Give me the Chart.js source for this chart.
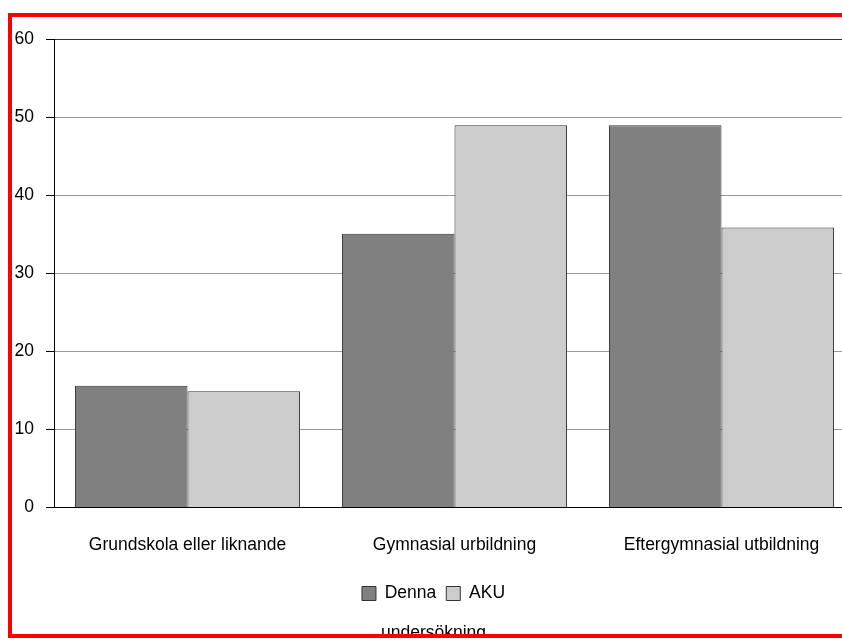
<!DOCTYPE html>
<html>
<head>
<meta charset="utf-8">
<script src="https://cdn.jsdelivr.net/npm/chart.js@4.4.1/dist/chart.umd.min.js"></script>
<style>
  html, body { margin: 0; padding: 0; background: #fff; overflow: hidden; }
  #frame {
    position: absolute; left: 8px; top: 13px;
    width: 900px; height: 617px;
    border: 4px solid #ff0000;
    overflow: hidden; background: #fff;
  }
  #c { display: block; }
</style>
</head>
<body>
<div id="frame"><canvas id="c" width="850" height="640"></canvas></div>
<script>
const categories = ['Grundskola eller liknande', 'Gymnasial urbildning', 'Eftergymnasial utbildning'];
const seriesNames = ['Denna', 'AKU'];
const extraLegendLine = 'undersökning';
const denna = [15.6, 35.1, 49.0];
const aku = [14.9, 49.0, 35.9];
const yTicks = [0, 10, 20, 30, 40, 50, 60];

const FONT = { family: '"Liberation Sans", Arial, sans-serif', size: 17.5 };

new Chart(document.getElementById('c'), {
  type: 'bar',
  data: {
    labels: categories,
    datasets: [
      { label: seriesNames[0], data: denna, backgroundColor: '#808080', borderColor: '#333333', borderWidth: 1 },
      { label: seriesNames[1], data: aku, backgroundColor: '#cccccc', borderColor: '#333333', borderWidth: 1 }
    ]
  },
  options: {
    responsive: false,
    animation: false,
    events: [],
    layout: { padding: { top: 22, left: 0, right: 7, bottom: 13 } },
    datasets: { bar: { categoryPercentage: 0.843, barPercentage: 1.0 } },
    scales: {
      x: {
        grid: { display: false },
        border: { display: true, color: '#000000', width: 1 },
        ticks: { color: '#000000', font: FONT, padding: 19.5, maxRotation: 0, autoSkip: false },
        afterFit: (scale) => { scale.height -= 0.75; }
      },
      y: {
        min: yTicks[0],
        max: yTicks[yTicks.length - 1],
        afterBuildTicks: (scale) => { scale.ticks = yTicks.map(v => ({ value: v })); },
        grid: {
          color: (ctx) => {
            const v = ctx.tick ? ctx.tick.value : null;
            if (v === 60) return '#333333';
            if (v === 0) return '#000000';
            return '#999999';
          },
          lineWidth: 1,
          drawTicks: true,
          tickLength: 8,
          tickColor: '#000000'
        },
        border: { display: true, color: '#000000', width: 1 },
        ticks: { color: '#000000', font: FONT, padding: 12 },
        afterFit: (scale) => { scale.width = 42; }
      }
    },
    plugins: {
      legend: {
        position: 'bottom',
        labels: { color: '#000000', font: FONT, boxWidth: 14, boxHeight: 14, padding: 10 }
      },
      title: {
        display: true,
        position: 'bottom',
        text: extraLegendLine,
        color: '#000000',
        font: { family: FONT.family, size: FONT.size, weight: 'normal' },
        padding: { top: 10.75, bottom: 0 }
      },
      tooltip: { enabled: false }
    }
  }
});
</script>
</body>
</html>
